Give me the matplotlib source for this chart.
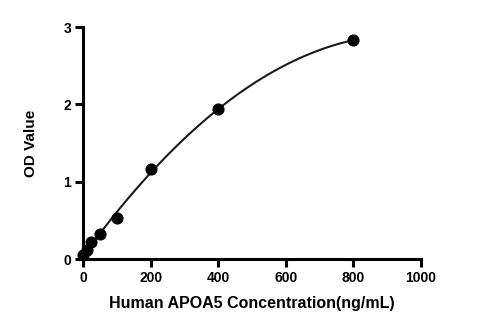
import numpy as np
import matplotlib
matplotlib.use("Agg")
import matplotlib.pyplot as plt
from matplotlib import rcParams

rcParams['font.family'] = ['Liberation Sans', 'DejaVu Sans']
rcParams['font.weight'] = 'bold'

# standard curve points
conc = [0, 12.5, 25, 50, 100, 200, 400, 800]
od = [0.05, 0.12, 0.22, 0.32, 0.53, 1.16, 1.94, 2.83]

fig = plt.figure(figsize=(4.8, 3.26), dpi=100)
ax = fig.add_axes([0.173, 0.205, 0.704, 0.712])

# smooth fit through the standards
coef = np.polyfit(conc, od, 2)
xs = np.linspace(0, 800, 200)
ax.plot(xs, np.polyval(coef, xs), color='#1a1a1a', lw=1.5, zorder=2)
ax.scatter(conc, od, s=60, color='black', zorder=3, clip_on=False)

ax.set_xlim(0, 1000)
ax.set_ylim(0, 3)
ax.set_xticks([0, 200, 400, 600, 800, 1000])
ax.set_yticks([0, 1, 2, 3])

for side in ['top', 'right']:
    ax.spines[side].set_visible(False)
for side in ['left', 'bottom']:
    ax.spines[side].set_linewidth(2.2)
ax.tick_params(width=2.2, length=5.5, labelsize=10, pad=3)
for lab in ax.get_xticklabels() + ax.get_yticklabels():
    lab.set_fontweight('bold')

ax.set_xlabel('Human APOA5 Concentration(ng/mL)', fontsize=11.5, fontweight='bold', labelpad=8)
ax.set_ylabel('OD Value', fontsize=11, fontweight='bold', labelpad=18)

fig.savefig('out.png', dpi=100)
